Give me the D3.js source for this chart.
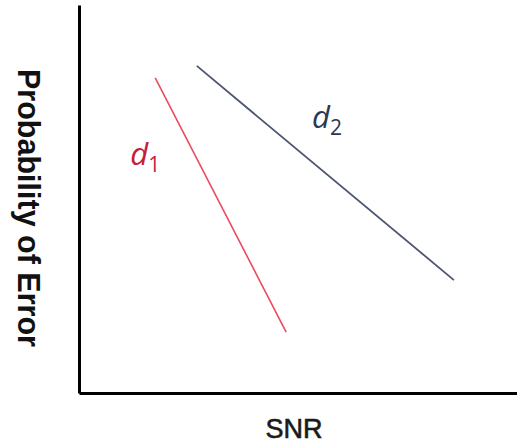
<!DOCTYPE html>
<html lang="en">
	<head>
		<meta charset="utf-8">
		<title>Probability of Error vs SNR</title>
		<style>
			body { margin: 0; background: #fff; }
		</style>
	</head>
	<body>
		<script src="https://cdn.jsdelivr.net/npm/d3@7"></script>
		<script>
			// data (arbitrary units)
			var series_names = ["d1", "d2"];
			var d1_snr = [1.74, 4.73];
			var d1_pe = [8.12, 1.57];
			var d2_snr = [2.69, 8.56];
			var d2_pe = [8.43, 2.91];
			// label anchor points, same units
			var label_snr = [1.17, 5.32];
			var label_pe = [5.87, 6.83];
			var axis_domain = [0, 10];

			// page parameters
			var width = 517;
			var height = 445;
			var left = 79;
			var bottom = 393;
			var top_pad = 5;

			var svg = d3.select("body").append("svg")
				.attr("width", width).attr("height", height);

			var x = d3.scaleLinear().domain(axis_domain).range([left, width]);
			var y = d3.scaleLinear().domain(axis_domain).range([bottom, top_pad]);

			// axes: plain black lines, no ticks
			var x_axis = svg.append("g")
				.attr("transform", "translate(0," + bottom + ")")
				.call(d3.axisBottom(x).ticks(0).tickSizeOuter(0));
			var y_axis = svg.append("g")
				.attr("transform", "translate(" + left + ",0)")
				.call(d3.axisLeft(y).ticks(0).tickSizeOuter(0));
			svg.selectAll(".domain")
				.attr("stroke", "#000")
				.attr("stroke-width", 3);

			var colors = { d1: "#ec4a5e", d2: "#4c5673" };
			var label_colors = { d1: "#c51d3c", d2: "#2b3854" };

			var lines = [
				{ name: "d1", pts: d3.zip(d1_snr, d1_pe) },
				{ name: "d2", pts: d3.zip(d2_snr, d2_pe) }
			];

			var line = d3.line()
				.x(function (d) { return x(d[0]); })
				.y(function (d) { return y(d[1]); });

			svg.selectAll("path.series")
				.data(lines)
				.enter()
				.append("path")
				.attr("class", "series")
				.attr("fill", "none")
				.attr("stroke", function (d) { return colors[d.name]; })
				.attr("stroke-width", function (d) { return d.name == "d1" ? 1.6 : 1.8; })
				.attr("d", function (d) { return line(d.pts); });

			// series labels  d with subscript
			series_names.forEach(function (name, i) {
				var t = svg.append("text")
					.attr("x", x(label_snr[i]))
					.attr("y", y(label_pe[i]))
					.attr("fill", label_colors[name])
					.style("font-family", "'Open Sans', sans-serif")
					.style("font-size", "31px");
				t.append("tspan")
					.style("font-style", "italic")
					.text("d");
				t.append("tspan")
					.attr("dy", 7)
					.attr("dx", 0)
					.style("font-size", "21px")
					.text(name.slice(1));
			});

			// axis titles
			svg.append("text")
				.attr("transform", "translate(18,208) rotate(90)")
				.attr("text-anchor", "middle")
				.style("font-family", "'Liberation Sans', Arial, sans-serif")
				.style("font-weight", "bold")
				.style("font-size", "30.5px")
				.attr("fill", "#111")
				.text("Probability of Error");

			svg.append("text")
				.attr("x", 294)
				.attr("y", 438)
				.attr("text-anchor", "middle")
				.style("font-family", "'Liberation Sans', Arial, sans-serif")
				.style("font-size", "27px")
				.style("stroke", "#1a1a1a")
				.style("stroke-width", 0.6)
				.attr("fill", "#1a1a1a")
				.text("SNR");
		</script>
	</body>
</html>
